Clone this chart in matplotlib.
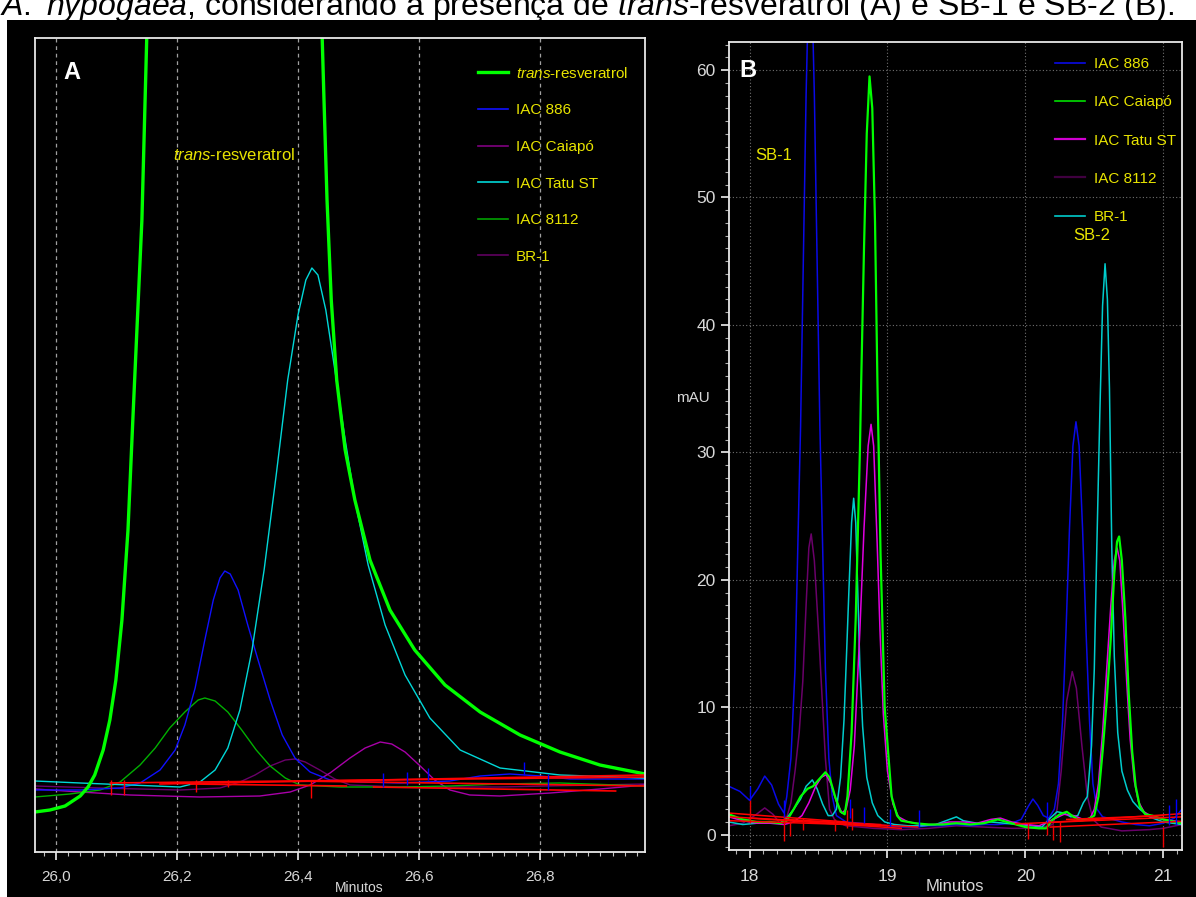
import matplotlib
matplotlib.use('Agg')
import matplotlib.pyplot as plt
from matplotlib.lines import Line2D
from matplotlib.patches import Rectangle
from matplotlib.ticker import MultipleLocator, FuncFormatter

plt.rcParams['font.family'] = ['Liberation Sans', 'DejaVu Sans']
plt.rcParams['mathtext.fontset'] = 'custom'
plt.rcParams['mathtext.rm'] = 'Liberation Sans'
plt.rcParams['mathtext.it'] = 'Liberation Sans:italic'

YEL = '#e8e400'
GRAY_TXT = '#d8d8d8'

# ---------------- painel A : 25,97 - 26,97 min (sinal relativo) ----------------
a_trans_x = [25.965, 25.990, 26.015, 26.040, 26.053, 26.064, 26.078, 26.089, 26.099, 26.109,
             26.119, 26.127, 26.136, 26.142, 26.150, 26.17, 26.23, 26.30, 26.37, 26.43,
             26.440, 26.443, 26.448, 26.455, 26.464, 26.478, 26.494, 26.519, 26.552, 26.593,
             26.643, 26.701, 26.767, 26.833, 26.899, 26.974]
a_trans_y = [40, 42, 46, 56, 65, 77, 102, 132, 172, 232,
             322, 432, 552, 632, 814, 1000, 1500, 1800, 1500, 900,
             814, 752, 652, 552, 472, 402, 352, 292, 242, 202,
             167, 140, 117, 100, 87, 78]

a_886_x = [25.965, 26.040, 26.106, 26.139, 26.172, 26.197, 26.213, 26.230, 26.246, 26.260,
           26.271, 26.279, 26.288, 26.301, 26.317, 26.334, 26.354, 26.374, 26.395, 26.420,
           26.453, 26.503, 26.569, 26.651, 26.701, 26.750, 26.800, 26.850, 26.974]
a_886_y = [62, 62, 64, 69, 82, 102, 127, 164, 212, 252,
           274, 281, 278, 262, 227, 192, 152, 117, 94, 80,
           72, 70, 69, 71, 76, 78, 76, 73, 73]

a_8112_x = [25.965, 26.023, 26.073, 26.106, 26.139, 26.164, 26.188, 26.213, 26.235, 26.246,
            26.263, 26.284, 26.307, 26.331, 26.354, 26.379, 26.403, 26.469, 26.569, 26.651,
            26.734, 26.833, 26.974]
a_8112_y = [55, 58, 62, 70, 87, 104, 124, 140, 152, 154,
            151, 140, 122, 102, 86, 74, 67, 65, 65, 66,
            68, 69, 66]

a_tatu_x = [25.965, 26.040, 26.122, 26.205, 26.238, 26.263, 26.284, 26.304, 26.324, 26.344,
            26.364, 26.383, 26.400, 26.413, 26.423, 26.433, 26.446, 26.461, 26.478, 26.494,
            26.516, 26.544, 26.577, 26.618, 26.668, 26.734, 26.833, 26.974]
a_tatu_y = [71, 69, 67, 65, 70, 82, 104, 142, 202, 282,
            377, 472, 537, 572, 584, 577, 542, 482, 412, 352,
            287, 227, 177, 134, 102, 84, 77, 74]

a_caiapo_x = [25.965, 26.040, 26.122, 26.238, 26.337, 26.387, 26.420, 26.453, 26.486, 26.511,
              26.536, 26.555, 26.577, 26.602, 26.626, 26.651, 26.684, 26.734, 26.817, 26.899,
              26.974]
a_caiapo_y = [63, 60, 57, 55, 56, 60, 67, 79, 94, 104,
              110, 108, 100, 86, 72, 62, 57, 56, 59, 63,
              67]

a_br1_x = [25.965, 26.073, 26.205, 26.271, 26.304, 26.329, 26.354, 26.379, 26.395, 26.412,
           26.436, 26.461, 26.486, 26.569, 26.734, 26.974]
a_br1_y = [66, 64, 62, 64, 70, 77, 86, 92, 93, 90,
           82, 73, 67, 65, 65, 68]

# linhas de base de integração (vermelho) e marcas
a_base_x0 = [26.090, 26.172, 26.223, 26.395, 26.525]
a_base_y0 = [69, 68, 68, 71, 65]
a_base_x1 = [26.974, 26.974, 26.480, 26.974, 26.925]
a_base_y1 = [75, 77, 66, 66, 61]
a_redmark_x = [26.091, 26.113, 26.231, 26.285, 26.421]
a_redmark_y0 = [57, 57, 60, 65, 54]
a_redmark_y1 = [72, 72, 72, 72, 72]
a_bluemark_x = [26.540, 26.581, 26.615, 26.773, 26.814]
a_bluemark_y0 = [65, 67, 72, 77, 62]
a_bluemark_y1 = [79, 80, 84, 90, 78]

a_ticks = [26.0, 26.2, 26.4, 26.6, 26.8]

# ---------------- painel B : 17,85 - 21,14 min (mAU) ----------------
b_886_x = [17.85, 17.93, 18.0, 18.06, 18.11, 18.16, 18.21, 18.25, 18.27, 18.30,
           18.33, 18.355, 18.37, 18.39, 18.41, 18.425, 18.44, 18.455, 18.47, 18.49,
           18.51, 18.525, 18.55, 18.575, 18.60, 18.63, 18.7, 18.8, 18.9, 19.0,
           19.1, 19.2, 19.3, 19.4, 19.5, 19.6, 19.7, 19.8, 19.9, 19.97,
           20.02, 20.055, 20.09, 20.13, 20.17, 20.21, 20.24, 20.27, 20.295, 20.32,
           20.345, 20.367, 20.39, 20.415, 20.44, 20.465, 20.49, 20.52, 20.56, 20.6,
           20.7, 20.8, 20.9, 21.0, 21.08, 21.136]
b_886_y = [3.8, 3.4, 2.7, 3.6, 4.6, 3.9, 2.4, 1.7, 3.0, 6.0,
           13.0, 25.0, 32.0, 45.0, 58.0, 65.0, 68.0, 65.0, 58.0, 45.0,
           32.0, 25.0, 13.0, 6.0, 3.0, 1.5, 1.0, 0.9, 0.8, 0.7,
           0.6, 0.6, 0.7, 0.7, 0.8, 0.7, 0.8, 0.8, 0.9, 1.2,
           2.2, 2.8, 2.3, 1.5, 1.3, 2.0, 4.0, 9.0, 16.0, 24.0,
           30.5, 32.4, 30.5, 24.0, 16.0, 9.0, 4.0, 2.0, 1.4, 1.3,
           1.0, 0.8, 0.7, 0.9, 1.3, 2.0]

b_caiapo_x = [17.85, 17.95, 18.05, 18.15, 18.22, 18.27, 18.32, 18.37, 18.42, 18.46,
              18.50, 18.55, 18.58, 18.62, 18.66, 18.69, 18.71, 18.74, 18.77, 18.80,
              18.81, 18.83, 18.85, 18.87, 18.89, 18.91, 18.927, 18.95, 18.98, 19.03,
              19.07, 19.1, 19.2, 19.3, 19.4, 19.5, 19.6, 19.7, 19.8, 19.9,
              20.0, 20.1, 20.15, 20.2, 20.25, 20.3, 20.35, 20.40, 20.45, 20.50,
              20.53, 20.56, 20.59, 20.62, 20.645, 20.665, 20.68, 20.70, 20.725, 20.75,
              20.775, 20.80, 20.83, 20.87, 20.92, 21.0, 21.136]
b_caiapo_y = [1.6, 1.2, 1.0, 1.0, 0.9, 1.1, 2.0, 3.0, 3.6, 3.8,
              4.3, 4.9, 4.5, 3.0, 1.8, 1.6, 3.0, 8.0, 17.0, 30.0,
              35.7, 46.0, 55.0, 59.5, 57.0, 48.0, 35.7, 22.0, 10.0, 3.0,
              1.5, 1.1, 0.9, 0.8, 0.8, 0.9, 0.8, 0.9, 1.2, 0.9,
              0.6, 0.5, 0.5, 1.2, 1.6, 1.8, 1.4, 1.1, 1.2, 1.5,
              3.0, 6.5, 10.5, 15.5, 20.5, 23.0, 23.4, 21.5, 17.0, 11.0,
              6.5, 3.8, 2.2, 1.6, 1.5, 1.2, 0.9]

b_tatu_x = [17.85, 17.95, 18.05, 18.15, 18.25, 18.32, 18.38, 18.43, 18.48, 18.52,
            18.555, 18.59, 18.63, 18.67, 18.70, 18.73, 18.76, 18.80, 18.83, 18.86,
            18.881, 18.90, 18.925, 18.946, 18.97, 19.0, 19.04, 19.08, 19.15, 19.25,
            19.35, 19.45, 19.55, 19.65, 19.75, 19.82, 19.9, 20.0, 20.1, 20.2,
            20.28, 20.35, 20.42, 20.47, 20.50, 20.53, 20.56, 20.59, 20.62, 20.645,
            20.665, 20.685, 20.71, 20.735, 20.76, 20.79, 20.82, 20.86, 20.92, 21.0,
            21.136]
b_tatu_y = [1.4, 1.1, 0.9, 0.9, 0.8, 1.0, 1.5, 2.5, 3.8, 4.5,
            4.7, 4.0, 2.6, 1.7, 2.0, 3.5, 7.0, 16.0, 24.0, 30.5,
            32.2, 30.5, 23.0, 16.0, 9.5, 5.0, 2.4, 1.4, 1.0, 0.8,
            0.8, 1.0, 1.0, 0.9, 1.2, 1.3, 1.0, 0.8, 0.7, 1.2,
            1.6, 1.5, 1.2, 1.3, 2.0, 4.0, 8.0, 13.0, 18.0, 21.5,
            22.5, 21.5, 17.0, 12.0, 7.5, 4.2, 2.6, 1.8, 1.4, 1.2,
            1.0]

b_8112_x = [17.85, 17.95, 18.05, 18.11, 18.17, 18.22, 18.26, 18.30, 18.33, 18.36,
            18.386, 18.41, 18.43, 18.447, 18.47, 18.50, 18.52, 18.55, 18.58, 18.62,
            18.7, 18.9, 19.1, 19.3, 19.5, 19.7, 19.9, 20.1, 20.2, 20.23,
            20.26, 20.30, 20.34, 20.37, 20.41, 20.45, 20.49, 20.55, 20.7, 20.9,
            21.0, 21.136]
b_8112_y = [0.7, 0.9, 1.6, 2.1, 1.6, 0.9, 1.0, 2.5, 5.0, 8.0,
            12.0, 18.0, 22.5, 23.6, 21.5, 16.0, 12.0, 6.0, 2.0, 1.1,
            0.7, 0.5, 0.4, 0.5, 0.7, 0.6, 0.5, 0.5, 0.8, 2.0,
            5.0, 10.5, 12.8, 11.5, 7.0, 3.0, 1.2, 0.6, 0.3, 0.4,
            0.5, 0.8]

b_br1_x = [17.85, 17.95, 18.05, 18.15, 18.22, 18.27, 18.32, 18.37, 18.41, 18.455,
           18.49, 18.53, 18.57, 18.60, 18.63, 18.66, 18.685, 18.70, 18.72, 18.74,
           18.755, 18.77, 18.785, 18.80, 18.82, 18.85, 18.89, 18.93, 18.98, 19.05,
           19.15, 19.25, 19.35, 19.45, 19.5, 19.55, 19.65, 19.75, 19.85, 19.95,
           20.05, 20.12, 20.18, 20.23, 20.28, 20.33, 20.38, 20.42, 20.45, 20.48,
           20.50, 20.518, 20.54, 20.56, 20.578, 20.595, 20.61, 20.627, 20.645, 20.67,
           20.70, 20.74, 20.78, 20.83, 20.9, 21.0, 21.136]
b_br1_y = [1.0, 0.8, 0.9, 0.9, 0.9, 1.3, 2.0, 2.8, 3.8, 4.3,
           3.6, 2.4, 1.5, 1.5, 2.0, 4.5, 9.0, 13.2, 19.0, 24.5,
           26.4, 24.5, 19.0, 13.2, 8.5, 4.5, 2.5, 1.5, 1.0, 0.8,
           0.7, 0.7, 0.8, 1.2, 1.4, 1.1, 0.9, 1.0, 0.9, 0.8,
           0.7, 0.6, 1.3, 1.8, 1.7, 1.4, 1.5, 2.5, 3.0, 7.0,
           13.0, 22.4, 33.0, 41.5, 44.8, 42.0, 35.0, 22.4, 14.0, 8.0,
           5.0, 3.5, 2.6, 2.0, 1.4, 1.0, 0.8]

b_base_x0 = [17.851, 17.851, 17.851, 18.00, 18.25, 19.93, 20.16, 20.18, 20.30]
b_base_y0 = [1.4, 1.1, 1.7, 1.3, 1.2, 0.85, 0.95, 0.6, 1.2]
b_base_x1 = [19.22, 19.00, 18.70, 19.10, 18.95, 21.136, 21.136, 21.136, 21.0]
b_base_y1 = [0.6, 0.7, 1.0, 0.5, 0.8, 1.4, 1.65, 1.05, 1.5]
b_redmark_x = [18.0, 18.247, 18.29, 18.39, 18.62, 18.71, 18.74, 20.02, 20.16, 20.2, 20.25, 21.0]
b_redmark_y0 = [0.9, -0.5, -0.1, 0.4, 0.3, 0.5, 0.4, -0.3, 0.0, -0.4, -0.6, -1.0]
b_redmark_y1 = [2.7, 1.6, 1.1, 1.3, 1.2, 1.9, 2.1, 0.9, 1.4, 0.8, 1.1, 0.6]
b_bluemark_x = [18.0, 18.25, 18.73, 18.83, 19.02, 19.23, 20.16, 21.04, 21.09]
b_bluemark_y0 = [2.7, 1.4, 1.3, 0.9, 0.7, 0.6, 1.0, 0.8, 0.8]
b_bluemark_y1 = [3.8, 2.7, 2.8, 2.2, 2.0, 1.9, 2.6, 2.3, 2.8]

b_xticks = [18, 19, 20, 21]
b_yticks = [0, 10, 20, 30, 40, 50, 60]

# ---------------------------------------------------------------------------
fig = plt.figure(figsize=(11.96, 8.97), dpi=100, facecolor='white')
fig.patches.append(Rectangle((7 / 1196, 0), 1, 1 - 20 / 897, transform=fig.transFigure,
                             facecolor='black', edgecolor='none', zorder=-5))
fig.text(0.0, 1 - 15 / 897,
         r'$\it{A.\ hypogaea}$, considerando a presença de $\it{trans}$-resveratrol (A) e SB-1 e SB-2 (B).',
         fontsize=23, color='black', va='baseline', ha='left', zorder=-4)

axA = fig.add_axes([35 / 1196, 1 - 852 / 897, 610 / 1196, 814 / 897])
axB = fig.add_axes([729 / 1196, 1 - 850 / 897, 453 / 1196, 808 / 897])

for ax in (axA, axB):
    ax.set_facecolor('black')
    for s in ax.spines.values():
        s.set_color('#e8e8e8')
        s.set_linewidth(1.3)

# ---- A ----
axA.plot(a_br1_x, a_br1_y, color='#6a006a', lw=1.0)
axA.plot(a_caiapo_x, a_caiapo_y, color='#a800a8', lw=1.0)
axA.plot(a_8112_x, a_8112_y, color='#00b000', lw=1.0)
axA.plot(a_886_x, a_886_y, color='#1010ff', lw=1.0)
axA.plot(a_tatu_x, a_tatu_y, color='#00d8d8', lw=1.0)
axA.plot(a_trans_x, a_trans_y, color='#00ff00', lw=2.4)
for x0, y0, x1, y1 in zip(a_base_x0, a_base_y0, a_base_x1, a_base_y1):
    axA.plot([x0, x1], [y0, y1], color='#ff0000', lw=1.2)
axA.vlines(a_redmark_x, a_redmark_y0, a_redmark_y1, color='#ff0000', lw=1.0)
axA.vlines(a_bluemark_x, a_bluemark_y0, a_bluemark_y1, color='#0000ff', lw=1.0)

axA.set_xlim(25.9653, 26.9736)
axA.set_ylim(0, 814)
axA.set_xticks(a_ticks)
axA.xaxis.set_major_formatter(FuncFormatter(lambda v, p: f'{v:.1f}'.replace('.', ',')))
axA.xaxis.set_minor_locator(MultipleLocator(0.02))
axA.set_yticks([])
axA.tick_params(axis='x', which='major', colors='#f0f0f0', length=6, width=1.2,
                labelcolor=GRAY_TXT, labelsize=11, pad=7)
axA.tick_params(axis='x', which='minor', colors='#c0c0c0', length=3, width=0.8)
for t in a_ticks:
    axA.axvline(t, color='#a0a0a0', lw=0.9, ls=(0, (3, 3)), zorder=0.5)
axA.set_xlabel('Minutos', color=GRAY_TXT, fontsize=10)
axA.xaxis.set_label_coords(0.531, -0.036)

axA.text(0.046, 0.958, 'A', transform=axA.transAxes, color='white', fontsize=17,
         fontweight='bold', va='center', ha='left')
axA.text(0.226, 0.856, r'$\it{trans}$-resveratrol', transform=axA.transAxes, color=YEL,
         fontsize=12, va='center', ha='left')

hA = [Line2D([], [], color='#00ff00', lw=2.4),
      Line2D([], [], color='#1010ff', lw=1.2),
      Line2D([], [], color='#800080', lw=1.2),
      Line2D([], [], color='#00d8d8', lw=1.2),
      Line2D([], [], color='#00a000', lw=1.2),
      Line2D([], [], color='#600060', lw=1.2)]
lA = [r'$\it{trans}$-resveratrol', 'IAC 886', 'IAC Caiapó', 'IAC Tatu ST', 'IAC 8112', 'BR-1']
axA.legend(hA, lA, loc='upper left', bbox_to_anchor=(0.726, 0.966), frameon=False,
           fontsize=11, labelcolor=YEL, handlelength=1.95, handletextpad=0.55,
           labelspacing=1.48, borderpad=0, borderaxespad=0)

# ---- B ----
axB.plot(b_8112_x, b_8112_y, color='#6a006a', lw=1.1)
axB.plot(b_886_x, b_886_y, color='#0a0ae6', lw=1.1)
axB.plot(b_br1_x, b_br1_y, color='#00cccc', lw=1.1)
axB.plot(b_tatu_x, b_tatu_y, color='#e000e0', lw=1.1)
axB.plot(b_caiapo_x, b_caiapo_y, color='#00ff00', lw=1.6)
for x0, y0, x1, y1 in zip(b_base_x0, b_base_y0, b_base_x1, b_base_y1):
    axB.plot([x0, x1], [y0, y1], color='#ff0000', lw=1.1)
axB.vlines(b_redmark_x, b_redmark_y0, b_redmark_y1, color='#ee0000', lw=1.0)
axB.vlines(b_bluemark_x, b_bluemark_y0, b_bluemark_y1, color='#0000ff', lw=1.0)

axB.set_xlim(17.851, 21.136)
axB.set_ylim(-1.2, 62.2)
axB.set_xticks(b_xticks)
axB.set_yticks(b_yticks)
axB.xaxis.set_minor_locator(MultipleLocator(0.1))
axB.yaxis.set_minor_locator(MultipleLocator(1))
axB.tick_params(axis='both', which='major', colors='#f0f0f0', length=6, width=1.2,
                labelcolor=GRAY_TXT, labelsize=12.5)
axB.tick_params(axis='x', which='major', pad=8)
axB.tick_params(axis='both', which='minor', colors='#b0b0b0', length=3, width=0.8)
axB.grid(True, which='major', color='#707070', lw=0.8, ls=(0, (1, 2)))
axB.set_axisbelow(True)
axB.set_xlabel('Minutos', color=GRAY_TXT, fontsize=12)
axB.xaxis.set_label_coords(0.499, -0.036)
axB.set_ylabel('mAU', color=GRAY_TXT, fontsize=11, rotation=0, va='center', ha='center')
axB.yaxis.set_label_coords(-0.079, 0.56)

axB.text(0.024, 0.965, 'B', transform=axB.transAxes, color='white', fontsize=17,
         fontweight='bold', va='center', ha='left')
axB.text(0.057, 0.86, 'SB-1', transform=axB.transAxes, color=YEL, fontsize=12,
         va='center', ha='left')
axB.text(0.759, 0.761, 'SB-2', transform=axB.transAxes, color=YEL, fontsize=12,
         va='center', ha='left')

hB = [Line2D([], [], color='#0a0ae6', lw=1.2),
      Line2D([], [], color='#00e000', lw=1.2),
      Line2D([], [], color='#d000d0', lw=1.6),
      Line2D([], [], color='#400040', lw=1.6),
      Line2D([], [], color='#00cccc', lw=1.2)]
lB = ['IAC 886', 'IAC Caiapó', 'IAC Tatu ST', 'IAC 8112', 'BR-1']
axB.legend(hB, lB, loc='upper left', bbox_to_anchor=(0.7196, 0.981), frameon=False,
           fontsize=11, labelcolor=YEL, handlelength=1.95, handletextpad=0.6,
           labelspacing=1.58, borderpad=0, borderaxespad=0)

fig.savefig('out.png', dpi=100, facecolor='white')
